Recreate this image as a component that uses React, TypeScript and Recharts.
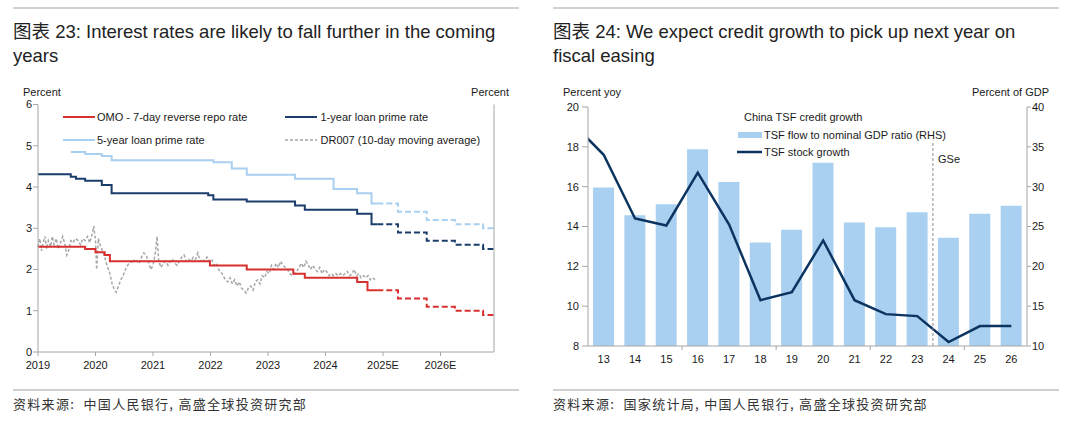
import React from 'react';
import { LineChart, Line, XAxis, YAxis, ComposedChart, Bar, ReferenceLine } from 'recharts';

// ---- left chart: policy rates ----
const yearTicks = [2019, 2020, 2021, 2022, 2023, 2024, 2025, 2026];
const yearLabels = ['2019', '2020', '2021', '2022', '2023', '2024', '2025E', '2026E'];
const rateTicks = [0, 1, 2, 3, 4, 5, 6];

const omoDates = [2019.0, 2019.82, 2020.0, 2020.16, 2020.25, 2021.99, 2022.63, 2023.44, 2023.64, 2024.55, 2024.73, 2024.9];
const omoValues = [2.55, 2.5, 2.42, 2.35, 2.2, 2.1, 2.0, 1.9, 1.8, 1.7, 1.5, 1.5];

const lpr1Dates = [2019.0, 2019.57, 2019.66, 2019.82, 2020.11, 2020.28, 2021.96, 2022.05, 2022.63, 2023.47, 2023.64, 2024.55, 2024.8, 2024.9];
const lpr1Values = [4.31, 4.25, 4.2, 4.15, 4.05, 3.85, 3.8, 3.7, 3.65, 3.55, 3.45, 3.35, 3.1, 3.1];

const lpr5Dates = [2019.57, 2019.82, 2020.11, 2020.28, 2022.05, 2022.37, 2022.63, 2023.47, 2024.14, 2024.55, 2024.8, 2024.9];
const lpr5Values = [4.85, 4.8, 4.75, 4.65, 4.6, 4.45, 4.3, 4.2, 3.95, 3.85, 3.6, 3.6];

// forecasts (dashed)
const fcDates = [2024.9, 2025.26, 2025.76, 2026.25, 2026.74, 2026.93];
const omoFc = [1.5, 1.3, 1.1, 1.0, 0.9, 0.9];
const lpr1Fc = [3.1, 2.9, 2.7, 2.6, 2.5, 2.5];
const lpr5Fc = [3.6, 3.4, 3.2, 3.1, 3.0, 3.0];

const drDates = [
  2019.0, 2019.03, 2019.06, 2019.09, 2019.12, 2019.15, 2019.18, 2019.22, 2019.25, 2019.28,
  2019.32, 2019.35, 2019.39, 2019.43, 2019.47, 2019.5, 2019.53, 2019.57, 2019.61, 2019.65,
  2019.7, 2019.74, 2019.78, 2019.82, 2019.86, 2019.9, 2019.94, 2019.97, 2020.0, 2020.02,
  2020.05, 2020.08, 2020.12, 2020.16, 2020.2, 2020.25, 2020.29, 2020.33, 2020.36, 2020.4,
  2020.44, 2020.48, 2020.52, 2020.56, 2020.6, 2020.64, 2020.68, 2020.72, 2020.76, 2020.8,
  2020.84, 2020.88, 2020.92, 2020.96, 2021.0, 2021.04, 2021.07, 2021.1, 2021.14, 2021.18,
  2021.22, 2021.26, 2021.3, 2021.34, 2021.38, 2021.42, 2021.46, 2021.5, 2021.54, 2021.58,
  2021.62, 2021.66, 2021.7, 2021.74, 2021.78, 2021.82, 2021.86, 2021.9, 2021.94, 2021.98,
  2022.02, 2022.06, 2022.1, 2022.14, 2022.18, 2022.22, 2022.26, 2022.3, 2022.34, 2022.38,
  2022.42, 2022.46, 2022.5, 2022.54, 2022.58, 2022.62, 2022.66, 2022.7, 2022.74, 2022.78,
  2022.82, 2022.86, 2022.9, 2022.94, 2022.98, 2023.02, 2023.06, 2023.1, 2023.14, 2023.18,
  2023.22, 2023.26, 2023.3, 2023.34, 2023.38, 2023.42, 2023.46, 2023.5, 2023.54, 2023.58,
  2023.62, 2023.66, 2023.7, 2023.74, 2023.78, 2023.82, 2023.86, 2023.9, 2023.94, 2023.98,
  2024.02, 2024.06, 2024.1, 2024.14, 2024.18, 2024.22, 2024.26, 2024.3, 2024.34, 2024.38,
  2024.42, 2024.46, 2024.5, 2024.54, 2024.58, 2024.62, 2024.66, 2024.7, 2024.74, 2024.78,
  2024.82, 2024.86,
];
const drValues = [
  2.55, 2.75, 2.45, 2.65, 2.8, 2.5, 2.7, 2.55, 2.8, 2.6,
  2.75, 2.5, 2.65, 2.8, 2.6, 2.35, 2.45, 2.7, 2.65, 2.75,
  2.7, 2.6, 2.75, 2.7, 2.8, 2.65, 2.85, 3.05, 2.7, 2.0,
  2.75, 2.6, 2.45, 2.3, 2.1, 1.9, 1.65, 1.5, 1.45, 1.6,
  1.75, 1.85, 2.0, 2.1, 2.2, 2.15, 2.25, 2.2, 2.15, 2.3,
  2.4, 2.35, 2.2, 2.0, 2.1, 2.4, 2.8, 2.2, 2.05, 2.15,
  2.2, 2.1, 2.2, 2.25, 2.15, 2.1, 2.2, 2.3, 2.35, 2.2,
  2.25, 2.2, 2.3, 2.25, 2.4, 2.2, 2.25, 2.2, 2.3, 2.2,
  2.25, 2.1, 2.15, 2.0, 1.95, 1.85, 1.75, 1.7, 1.8, 1.65,
  1.75, 1.6, 1.7, 1.55, 1.5, 1.43, 1.55, 1.6, 1.5, 1.7,
  1.75, 1.65, 1.85, 1.8, 1.95, 1.9, 2.1, 2.0, 2.15, 2.05,
  2.2, 2.1, 2.05, 2.0, 1.9, 1.85, 1.9, 1.95, 2.05, 2.15,
  2.05, 2.2, 2.1, 2.0, 2.1, 2.0, 1.95, 2.05, 1.9, 2.0,
  1.95, 1.85, 1.9, 1.85, 1.9, 1.85, 1.9, 1.85, 1.9, 1.95,
  1.85, 1.9, 2.0, 1.85, 1.9, 1.8, 1.85, 1.8, 1.85, 1.75,
  1.8, 1.75,
];

// ---- right chart: TSF ----
const tsfYears = [12, 13, 14, 15, 16, 17, 18, 19, 20, 21, 22, 23, 24, 25, 26];
const tsfFlowRatio = [null, 29.9, 26.4, 27.8, 34.7, 30.6, 23.0, 24.6, 33.0, 25.5, 24.9, 26.8, 23.6, 26.6, 27.6];
const tsfStockGrowth = [19.2, 17.6, 14.4, 14.05, 16.7, 14.1, 10.3, 10.7, 13.3, 10.3, 9.6, 9.5, 8.2, 9.0, 9.0];
const tsfTicks = [13, 14, 15, 16, 17, 18, 19, 20, 21, 22, 23, 24, 25, 26];
const lhsTicks = [8, 10, 12, 14, 16, 18, 20];
const rhsTicks = [10, 15, 20, 25, 30, 35, 40];
const minorTicks = [15.5, 18.5, 21.5, 24.5];

const zip = (ts: number[], vs: number[]) => ts.map((t, i) => ({ t, v: vs[i] }));
const tsfData = tsfYears.map((yr, i) => ({ yr, flow: tsfFlowRatio[i], stock: tsfStockGrowth[i] }));

const RED = '#d7302f';
const NAVY = '#1b3d6b';
const LIGHT = '#a9d0f0';
const GREY = '#a6a6a6';
const AXIS = '#a6a6a6';
const TEXT = '#1a1a1a';
const FONT = "'Liberation Sans', Arial, 'Noto Sans CJK SC', sans-serif";
const CJK = "'Noto Sans CJK SC', 'Liberation Sans', sans-serif";

const tickStyle = { fontSize: 11, fill: TEXT, fontFamily: FONT };

const abs = (left: number, top: number, extra: React.CSSProperties = {}): React.CSSProperties => ({
  position: 'absolute', left, top, ...extra,
});

const LegendLine = ({ x, y, w, color, dash, width = 2 }: { x: number; y: number; w: number; color: string; dash?: string; width?: number }) => (
  <svg style={abs(x, y - 3)} width={w} height={6}>
    <line x1={0} y1={3} x2={w} y2={3} stroke={color} strokeWidth={width} strokeDasharray={dash} />
  </svg>
);

const Label = ({ x, y, text, right }: { x: number; y: number; text: string; right?: boolean }) => (
  <div
    style={{
      position: 'absolute',
      top: y - 7,
      ...(right ? { right: 1080 - x, textAlign: 'right' } : { left: x }),
      fontSize: 11,
      lineHeight: '14px',
      color: TEXT,
      whiteSpace: 'nowrap',
    }}
  >
    {text}
  </div>
);

const sourceStyle: React.CSSProperties = {
  fontFamily: CJK, fontSize: 13, lineHeight: '16px', color: '#333', letterSpacing: 1.3, whiteSpace: 'nowrap',
};

const App: React.FC = () => {
  return (
    <div style={{ position: 'absolute', left: 0, top: 0, width: 1080, height: 427, background: '#fff', fontFamily: FONT, overflow: 'hidden' }}>
      {/* rules */}
      <div style={abs(13, 7, { width: 506, height: 2, background: '#d0d0d0' })} />
      <div style={abs(553, 7, { width: 506, height: 2, background: '#d0d0d0' })} />
      <div style={abs(13, 389, { width: 506, height: 2, background: '#d0d0d0' })} />
      <div style={abs(553, 389, { width: 506, height: 2, background: '#d0d0d0' })} />

      {/* titles */}
      <div style={abs(13, 19.5, { fontSize: 18.5, lineHeight: '24px', color: '#222', whiteSpace: 'nowrap' })}>
        图表 23: Interest rates are likely to fall further in the coming<br />years
      </div>
      <div style={abs(553, 19.5, { fontSize: 18.5, lineHeight: '24px', color: '#222', whiteSpace: 'nowrap' })}>
        图表 24: We expect credit growth to pick up next year on<br />fiscal easing
      </div>

      {/* left chart */}
      <Label x={23} y={92} text="Percent" />
      <Label x={509} y={92} text="Percent" right />
      <div style={abs(0, 85)}>
        <LineChart width={540} height={290} margin={{ top: 19.5, right: 16, bottom: 3, left: 8 }}>
          <XAxis
            dataKey="t"
            type="number"
            domain={[2019, 2026.93]}
            ticks={yearTicks}
            tickFormatter={(v: number) => yearLabels[yearTicks.indexOf(v)]}
            tick={tickStyle}
            stroke={AXIS}
            tickSize={4}
            tickMargin={5}
            height={20}
            allowDuplicatedCategory={false}
          />
          <YAxis yAxisId="l" domain={[0, 6]} ticks={rateTicks} tick={tickStyle} stroke={AXIS} tickSize={5} tickMargin={1} width={30} />
          <YAxis yAxisId="r" orientation="right" domain={[0, 6]} ticks={rateTicks} tick={tickStyle} stroke={AXIS} tickSize={3} tickMargin={1} width={30} />
          <Line yAxisId="l" data={zip(drDates, drValues)} dataKey="v" type="linear" stroke={GREY} strokeWidth={1.5} strokeDasharray="3 2" dot={false} isAnimationActive={false} />
          <Line yAxisId="l" data={zip(lpr5Dates, lpr5Values)} dataKey="v" type="stepAfter" stroke={LIGHT} strokeWidth={2} dot={false} isAnimationActive={false} />
          <Line yAxisId="l" data={zip(fcDates, lpr5Fc)} dataKey="v" type="stepAfter" stroke={LIGHT} strokeWidth={2} strokeDasharray="6 3" dot={false} isAnimationActive={false} />
          <Line yAxisId="l" data={zip(lpr1Dates, lpr1Values)} dataKey="v" type="stepAfter" stroke={NAVY} strokeWidth={2} dot={false} isAnimationActive={false} />
          <Line yAxisId="l" data={zip(fcDates, lpr1Fc)} dataKey="v" type="stepAfter" stroke={NAVY} strokeWidth={2} strokeDasharray="6 3" dot={false} isAnimationActive={false} />
          <Line yAxisId="l" data={zip(omoDates, omoValues)} dataKey="v" type="stepAfter" stroke={RED} strokeWidth={2} dot={false} isAnimationActive={false} />
          <Line yAxisId="l" data={zip(fcDates, omoFc)} dataKey="v" type="stepAfter" stroke={RED} strokeWidth={2} strokeDasharray="6 3" dot={false} isAnimationActive={false} />
        </LineChart>
      </div>
      <LegendLine x={63} y={117} w={32} color={RED} />
      <Label x={97} y={117} text="OMO - 7-day reverse repo rate" />
      <LegendLine x={63} y={139.5} w={32} color={LIGHT} />
      <Label x={97} y={139.5} text="5-year loan prime rate" />
      <LegendLine x={285} y={117} w={32} color={NAVY} />
      <Label x={320.5} y={117} text="1-year loan prime rate" />
      <LegendLine x={285} y={139.5} w={32} color={GREY} dash="3 2" width={1.5} />
      <Label x={320.5} y={139.5} text="DR007 (10-day moving average)" />

      {/* right chart */}
      <Label x={563} y={92} text="Percent yoy" />
      <Label x={1049} y={92} text="Percent of GDP" right />
      <div style={abs(540, 85)}>
        <ComposedChart width={540} height={290} data={tsfData} margin={{ top: 22, right: 23, bottom: 9, left: 18 }}>
          <XAxis
            dataKey="yr"
            type="number"
            domain={[12.5, 26.5]}
            allowDataOverflow
            ticks={tsfTicks}
            tick={tickStyle}
            tickLine={false}
            stroke={AXIS}
            tickSize={6}
            tickMargin={3}
            height={20}
          />
          <YAxis yAxisId="l" domain={[8, 20]} ticks={lhsTicks} tick={tickStyle} stroke={AXIS} tickSize={6} tickMargin={3} width={30} />
          <YAxis yAxisId="r" orientation="right" domain={[10, 40]} ticks={rhsTicks} tick={tickStyle} stroke={AXIS} tickSize={4} tickMargin={1} width={30} />
          <Bar yAxisId="r" dataKey="flow" fill={LIGHT} barSize={21} isAnimationActive={false} />
          <Line yAxisId="l" dataKey="stock" type="linear" stroke="#0c3461" strokeWidth={2.5} dot={false} isAnimationActive={false} />
          <ReferenceLine yAxisId="l" segment={[{ x: 23.5, y: 8 }, { x: 23.5, y: 18.3 }]} stroke="#8c8c8c" strokeDasharray="3 2" />
          {minorTicks.map((m) => (
            <ReferenceLine key={m} yAxisId="l" ifOverflow="visible" segment={[{ x: m, y: 8 }, { x: m, y: 7.8 }]} stroke={AXIS} />
          ))}
        </ComposedChart>
      </div>
      <Label x={938} y={159} text="GSe" />
      <Label x={744} y={117} text="China TSF credit growth" />
      <div style={abs(738, 131.5, { width: 24, height: 6, background: LIGHT })} />
      <Label x={764} y={134.5} text="TSF flow to nominal GDP ratio (RHS)" />
      <LegendLine x={737} y={152} w={25} color="#0c3461" width={2.5} />
      <Label x={764} y={152} text="TSF stock growth" />

      {/* sources */}
      <div style={abs(13, 396, sourceStyle)}>
        资料来源:&nbsp; 中国人民银行, 高盛全球投资研究部
      </div>
      <div style={abs(553, 396, sourceStyle)}>
        资料来源:&nbsp; 国家统计局, 中国人民银行, 高盛全球投资研究部
      </div>
    </div>
  );
};

export default App;
